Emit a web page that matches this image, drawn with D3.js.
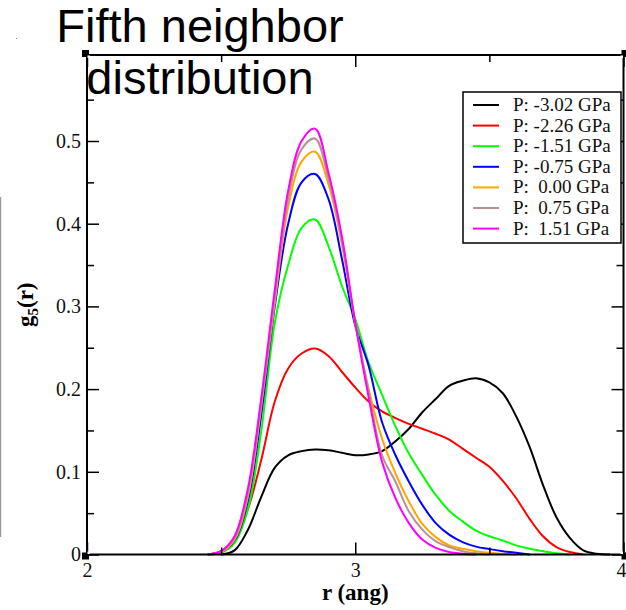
<!DOCTYPE html>
<html>
<head>
<meta charset="utf-8">
<script src="https://cdn.jsdelivr.net/npm/d3@7"></script>
<style>
  html, body { margin: 0; padding: 0; background: #fff; }
  svg { display: block; }
  text { white-space: pre; }
</style>
</head>
<body>
<svg id="chart" width="626" height="610"></svg>
<script>
// ---- data ----
const rValues = [2.45, 2.50, 2.55, 2.60, 2.65, 2.70, 2.75, 2.80, 2.85, 2.90, 2.95,
                 3.00, 3.05, 3.10, 3.15, 3.20, 3.25, 3.30, 3.35, 3.40, 3.45,
                 3.50, 3.55, 3.60, 3.65, 3.70, 3.75, 3.80, 3.85, 3.90, 3.95];

const gBlack   = [null, 0, 0.005, 0.03, 0.07, 0.105, 0.12, 0.125, 0.127, 0.126, 0.123,
                  0.12, 0.121, 0.125, 0.137, 0.152, 0.172, 0.188, 0.204, 0.210, 0.213,
                  0.208, 0.195, 0.167, 0.13, 0.084, 0.045, 0.02, 0.005, 0.001, 0];
const gRed     = [0, 0.004, 0.018, 0.055, 0.115, 0.185, 0.225, 0.243, 0.249, 0.24, 0.221,
                  0.202, 0.185, 0.173, 0.165, 0.158, 0.152, 0.146, 0.139, 0.128, 0.117,
                  0.106, 0.089, 0.068, 0.043, 0.022, 0.009, 0.003, 0, null, null];
const gGreen   = [0, 0.002, 0.014, 0.055, 0.15, 0.28, 0.35, 0.395, 0.405, 0.373, 0.325,
                  0.285, 0.232, 0.193, 0.155, 0.122, 0.096, 0.072, 0.053, 0.040, 0.029,
                  0.022, 0.017, 0.011, 0.007, 0.004, 0.0015, 0, null, null, null];
const gBlue    = [0, 0.003, 0.017, 0.065, 0.17, 0.30, 0.40, 0.45, 0.46, 0.43, 0.358,
                  0.277, 0.228, 0.16, 0.12, 0.088, 0.06, 0.038, 0.024, 0.015, 0.0095,
                  0.0065, 0.004, 0.002, 0, null, null, null, null, null, null];
const gOrange  = [0, 0.003, 0.018, 0.07, 0.18, 0.305, 0.42, 0.475, 0.487, 0.448, 0.375,
                  0.28, 0.2, 0.14, 0.098, 0.064, 0.037, 0.021, 0.011, 0.007, 0.004,
                  0.002, 0.001, 0, null, null, null, null, null, null, null];
const gBrown   = [0, 0.004, 0.02, 0.075, 0.185, 0.31, 0.43, 0.49, 0.503, 0.455, 0.38,
                  0.28, 0.197, 0.12, 0.088, 0.052, 0.03, 0.016, 0.009, 0.004, 0.0015,
                  0, null, null, null, null, null, null, null, null, null];
const gMagenta = [0, 0.004, 0.022, 0.08, 0.19, 0.32, 0.44, 0.50, 0.515, 0.462, 0.385,
                  0.28, 0.19, 0.112, 0.068, 0.038, 0.018, 0.008, 0.003, 0.001, 0,
                  null, null, null, null, null, null, null, null, null, null];

const seriesLabels = ["P: -3.02 GPa", "P: -2.26 GPa", "P: -1.51 GPa", "P: -0.75 GPa",
                      "P:  0.00 GPa", "P:  0.75 GPa", "P:  1.51 GPa"];
const seriesColors = ["#000000", "#ff0000", "#00ff00", "#0000ff", "#ffa500", "#bc8f8f", "#ff00ff"];
const seriesValues = [gBlack, gRed, gGreen, gBlue, gOrange, gBrown, gMagenta];

const xMajorTicks = [2, 3, 4];
const xMinorTicks = [2.5, 3.5];
const yMajorTicks = [0, 0.1, 0.2, 0.3, 0.4, 0.5];
const yMinorTicks = [0.05, 0.15, 0.25, 0.35, 0.45, 0.55];
const titleLines = ["Fifth neighbor", "distribution"];

// ---- layout ----
const L = 87, R = 623.5, T = 55, B = 554.5;
const svg = d3.select("#chart");

const x = d3.scaleLinear().domain([2, 4]).range([L, R]);
const y = d3.scaleLinear().domain([0, 0.5 * (B - T) / (B - 141)]).range([B, T]);

const serif = "'Liberation Serif', 'Times New Roman', 'DejaVu Serif', serif";
const sans = "'Liberation Sans', Arial, 'DejaVu Sans', sans-serif";

// stray decorations
svg.append("rect").attr("x", 0).attr("y", 197).attr("width", 1.2).attr("height", 340).attr("fill", "#9a9a9a");
svg.append("rect").attr("x", 16).attr("y", 38).attr("width", 1).attr("height", 1).attr("fill", "#888");

// curves
const line = d3.line()
  .defined(d => d[1] != null)
  .x(d => x(d[0]))
  .y(d => y(d[1]))
  .curve(d3.curveCatmullRom.alpha(0.5));

const gCurves = svg.append("g");
seriesValues.forEach((vals, i) => {
  const pts = rValues.map((r, j) => [r, vals[j]]);
  gCurves.append("path")
    .attr("d", line(pts))
    .attr("fill", "none")
    .attr("stroke", seriesColors[i])
    .attr("stroke-width", 2)
    .attr("stroke-linejoin", "round");
});

// axes
function styleAxis(g) {
  g.select(".domain").remove();
  g.selectAll(".tick line").attr("stroke", "#000").attr("stroke-width", 1.5);
  g.selectAll(".tick text").attr("font-family", serif).attr("font-size", 20).attr("fill", "#111");
}
const fmtY = d => d === 0 ? "0" : d.toFixed(1);

const xAxisG = svg.append("g").attr("transform", `translate(0,${B})`)
  .call(d3.axisBottom(x).tickValues(xMajorTicks).tickSize(-12).tickPadding(8).tickFormat(d3.format("d")))
  .call(styleAxis);
// last label sits at the right edge, as in the reference
xAxisG.selectAll(".tick text").filter(d => d === 4).attr("text-anchor", "end").attr("x", 626 - R);

svg.append("g").attr("transform", `translate(0,${B})`)
  .call(d3.axisBottom(x).tickValues(xMinorTicks).tickSize(-7).tickFormat(""))
  .call(styleAxis);
svg.append("g").attr("transform", `translate(0,${T})`)
  .call(d3.axisTop(x).tickValues(xMajorTicks).tickSize(-12).tickFormat(""))
  .call(styleAxis);
svg.append("g").attr("transform", `translate(0,${T})`)
  .call(d3.axisTop(x).tickValues(xMinorTicks).tickSize(-7).tickFormat(""))
  .call(styleAxis);
svg.append("g").attr("transform", `translate(${L},0)`)
  .call(d3.axisLeft(y).tickValues(yMajorTicks).tickSize(-12).tickPadding(6).tickFormat(fmtY))
  .call(styleAxis);
svg.append("g").attr("transform", `translate(${L},0)`)
  .call(d3.axisLeft(y).tickValues(yMinorTicks).tickSize(-7).tickFormat(""))
  .call(styleAxis);
svg.append("g").attr("transform", `translate(${R},0)`)
  .call(d3.axisRight(y).tickValues(yMajorTicks).tickSize(-12).tickFormat(""))
  .call(styleAxis);
svg.append("g").attr("transform", `translate(${R},0)`)
  .call(d3.axisRight(y).tickValues(yMinorTicks).tickSize(-7).tickFormat(""))
  .call(styleAxis);

// frame
svg.append("rect").attr("x", L).attr("y", T).attr("width", R - L).attr("height", B - T)
  .attr("fill", "none").attr("stroke", "#000").attr("stroke-width", 2);

// corner handles
[[L, T, -1, -1], [R, T, 1, -1], [L, B, -1, 1], [R, B, 1, 1]].forEach(([cx, cy, sx, sy]) => {
  const s = 7;
  const x0 = sx < 0 ? cx - 5 : cx - 2;
  const y0 = sy < 0 ? cy - 5 : cy - 2;
  svg.append("rect").attr("x", x0).attr("y", y0).attr("width", s).attr("height", s).attr("fill", "#000");
  svg.append("rect").attr("x", cx + (sx < 0 ? 0.5 : -3)).attr("y", cy + (sy < 0 ? 0.5 : -3))
    .attr("width", 2.5).attr("height", 2.5).attr("fill", "#fff");
});

// axis labels
svg.append("text").attr("x", (L + R) / 2).attr("y", 600).attr("text-anchor", "middle")
  .attr("font-family", serif).attr("font-weight", "bold").attr("font-size", 23).text("r (ang)");

const yl = svg.append("text")
  .attr("transform", `translate(33,${(T + B) / 2}) rotate(-90)`)
  .attr("text-anchor", "middle")
  .attr("font-family", serif).attr("font-weight", "bold").attr("font-size", 23);
yl.append("tspan").text("g");
yl.append("tspan").attr("font-size", 15).attr("dy", 5).text("5");
yl.append("tspan").attr("dy", -5).text("(r)");

// legend
const lg = svg.append("g");
lg.append("rect").attr("x", 463).attr("y", 92).attr("width", 158).attr("height", 151)
  .attr("fill", "#fff").attr("stroke", "#000").attr("stroke-width", 1.5);
seriesLabels.forEach((lab, i) => {
  const cy = 105 + i * 20.6;
  lg.append("line").attr("x1", 473).attr("x2", 499).attr("y1", cy).attr("y2", cy)
    .attr("stroke", seriesColors[i]).attr("stroke-width", 2);
  lg.append("text").attr("x", 513).attr("y", cy + 6)
    .attr("font-family", serif).attr("font-size", 19).attr("fill", "#111").text(lab);
});

// title
titleLines.forEach((t, i) => {
  svg.append("text").attr("x", 200).attr("y", 42 + i * 52).attr("text-anchor", "middle")
    .attr("font-family", sans).attr("font-size", 47).attr("fill", "#000").text(t);
});
</script>
</body>
</html>
